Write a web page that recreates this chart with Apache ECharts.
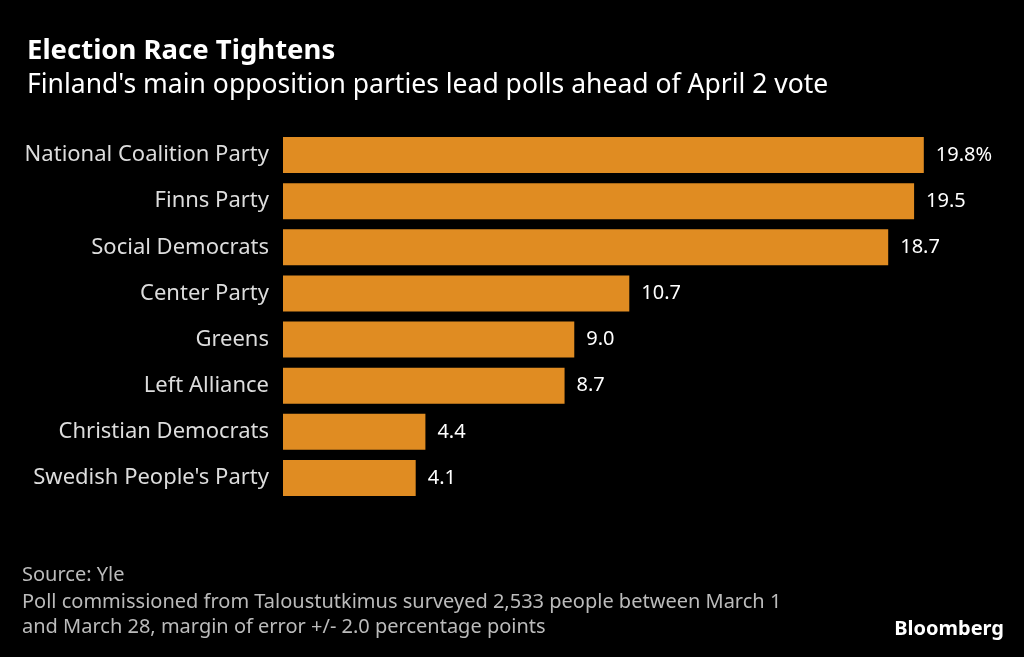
<!DOCTYPE html>
<html>
<head>
<meta charset="utf-8">
<script src="https://cdn.jsdelivr.net/npm/echarts@6/dist/echarts.min.js"></script>
<style>
html,body{margin:0;padding:0;background:#000;}
#chart{width:1024px;height:657px;}
</style>
</head>
<body>
<div id="chart"></div>
<script>
var parties = ["National Coalition Party", "Finns Party", "Social Democrats", "Center Party",
    "Greens", "Left Alliance", "Christian Democrats", "Swedish People's Party"];
var support = [19.8, 19.5, 18.7, 10.7, 9.0, 8.7, 4.4, 4.1];

var font = "'Noto Sans', sans-serif";
var chart = echarts.init(document.getElementById('chart'));

chart.setOption({
    backgroundColor: '#000',
    animation: false,
    title: [
        { text: 'Election Race Tightens', left: 22, top: 32,
          textStyle: { color: '#fff', fontFamily: font, fontSize: 27.5, fontWeight: 'bold' } },
        { text: "Finland's main opposition parties lead polls ahead of April 2 vote", left: 22, top: 67,
          textStyle: { color: '#fff', fontFamily: font, fontSize: 26.5, fontWeight: 'normal' } }
    ],
    graphic: [
        { type: 'text', left: 22, top: 565, style: { text: 'Source: Yle', fill: '#bbb', font: '20px ' + font } },
        { type: 'text', left: 22, top: 590, style: {
            text: 'Poll commissioned from Taloustutkimus surveyed 2,533 people between March 1\nand March 28, margin of error +/- 2.0 percentage points',
            fill: '#bbb', font: '20px ' + font, lineHeight: 25 } },
        { type: 'text', right: 20, top: 619, style: { text: 'Bloomberg', fill: '#fff', font: 'bold 20px ' + font } }
    ],
    grid: { left: 283, top: 132, width: 712, height: 369, containLabel: false },
    xAxis: { type: 'value', min: 0, max: 22, show: false },
    yAxis: {
        type: 'category', data: parties, inverse: true,
        axisLine: { show: false }, axisTick: { show: false },
        axisLabel: { color: '#ddd', fontFamily: font, fontSize: 22, margin: 14 }
    },
    series: [{
        type: 'bar', data: support, barWidth: 36,
        itemStyle: { color: '#E08C22' },
        label: {
            show: true, position: 'right', distance: 12, color: '#fff',
            fontFamily: font, fontSize: 20,
            formatter: function (p) { return p.value.toFixed(1) + (p.dataIndex === 0 ? '%' : ''); }
        }
    }]
});
</script>
</body>
</html>
